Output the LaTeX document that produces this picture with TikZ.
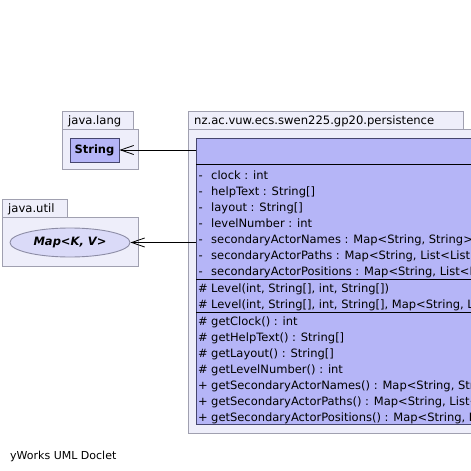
\documentclass[tikz,border=0pt]{standalone}
\usepackage{fontspec}
\setmainfont{DejaVu Sans}
\usetikzlibrary{arrows.meta,shapes.geometric,calc}
\definecolor{pkgfill}{RGB}{238,238,250}
\definecolor{pkgdraw}{RGB}{160,160,176}
\definecolor{clsfill}{RGB}{181,181,247}
\definecolor{clsdraw}{RGB}{70,70,110}
\definecolor{ellfill}{RGB}{218,218,248}
\definecolor{elldraw}{RGB}{140,140,165}
\begin{document}
\begin{tikzpicture}[x=1pt,y=-1pt,
  pkgshape/.style={draw=pkgdraw, fill=pkgfill, line width=0.9pt},
  pkglabel/.style={anchor=base west, inner sep=0pt, font=\fontsize{11.6}{13}\selectfont},
  member/.style={anchor=base west, inner sep=0pt, font=\fontsize{11.5}{13}\selectfont},
  vis/.style={anchor=base west, inner sep=0pt, font=\fontsize{11.5}{13}\selectfont},
  sepline/.style={draw=black, line width=1pt},
  dep/.style={draw=black, line width=0.8pt, -{Straight Barb[length=13pt,width=9pt,line width=0.8pt]}}]
\useasboundingbox (0,0) rectangle (471,471);
\fill[white] (0,0) rectangle (471,471);
\clip (0,0) rectangle (471,471);

% java.lang package
\draw[pkgshape] (62,111) rectangle (133,129);
\draw[pkgshape] (62,129) rectangle (138,169);
\node[pkglabel] (langlbl) at (68,124) {java.lang};
\node[draw=clsdraw, fill=clsfill, line width=0.9pt, minimum width=49, minimum height=24, inner sep=0pt,
      font=\fontsize{11.5}{13}\selectfont\bfseries] (string) at (94.5,150) {String};

% java.util package
\draw[pkgshape] (2,199) rectangle (67,217);
\draw[pkgshape] (2,217) rectangle (138,266);
\node[pkglabel] (utillbl) at (8,212) {java.util};
\node[ellipse, draw=elldraw, fill=ellfill, line width=0.9pt, minimum width=120, minimum height=29, inner sep=0pt,
      font=\fontsize{11.5}{13}\selectfont\bfseries\itshape] (map) at (70,242.5) {Map<K, V>};

% persistence package
\draw[pkgshape] (188,111) rectangle (463,129);
\draw[pkgshape] (188,129) rectangle (490,433);
\node[pkglabel] (perslbl) at (194,124) {nz.ac.vuw.ecs.swen225.gp20.persistence};

% class
\node[draw=clsdraw, fill=clsfill, line width=0.9pt, anchor=north west, minimum width=300, minimum height=286, inner sep=0pt] (cls) at (196,138) {};
\draw[sepline] ($(cls.north west)+(0,26)$) -- ($(cls.north east)+(0,26)$);
\draw[sepline] ($(cls.north west)+(0,141)$) -- ($(cls.north east)+(0,141)$);
\draw[sepline] ($(cls.north west)+(0,174)$) -- ($(cls.north east)+(0,174)$);

\node[vis] (a1v) at (198.5,179) {-};
\node[vis] (a2v) at (198.5,195) {-};
\node[vis] (a3v) at (198.5,211) {-};
\node[vis] (a4v) at (198.5,227) {-};
\node[vis] (a5v) at (198.5,243) {-};
\node[vis] (a6v) at (198.5,259) {-};
\node[vis] (a7v) at (198.5,275) {-};
\node[vis] (c1v) at (198,292) {\#};
\node[vis] (c2v) at (198,308) {\#};
\node[vis] (m1v) at (198,325) {\#};
\node[vis] (m2v) at (198,341) {\#};
\node[vis] (m3v) at (198,357) {\#};
\node[vis] (m4v) at (198,373) {\#};
\node[vis] (m5v) at (198,389) {+};
\node[vis] (m6v) at (198,405) {+};
\node[vis] (m7v) at (198,421) {+};

\node[member] (a1) at (211,179) {clock : int};
\node[member] (a2) at (211,195) {helpText : String[]};
\node[member] (a3) at (211,211) {layout : String[]};
\node[member] (a4) at (211,227) {levelNumber : int};
\node[member] (a5) at (211,243) {secondaryActorNames : Map<String, String>};
\node[member] (a6) at (211,259) {secondaryActorPaths : Map<String, List<List<};
\node[member] (a7) at (211,275) {secondaryActorPositions : Map<String, List<P};
\node[member] (c1) at (211,292) {Level(int, String[], int, String[])};
\node[member] (c2) at (211,308) {Level(int, String[], int, String[], Map<String, Li};
\node[member] (m1) at (211,325) {getClock() : int};
\node[member] (m2) at (211,341) {getHelpText() : String[]};
\node[member] (m3) at (211,357) {getLayout() : String[]};
\node[member] (m4) at (211,373) {getLevelNumber() : int};
\node[member] (m5) at (211,389) {getSecondaryActorNames() : Map<String, Str};
\node[member] (m6) at (211,405) {getSecondaryActorPaths() : Map<String, List<};
\node[member] (m7) at (211,421) {getSecondaryActorPositions() : Map<String, L};

% dependencies
\draw[dep] (cls.west |- string.east) -- (string.east);
\draw[dep] (cls.west |- map.east) -- (map.east);

\node[anchor=base west, inner sep=0pt, font=\fontsize{11}{13}\selectfont] (doclet) at (10,459) {yWorks UML Doclet};
\end{tikzpicture}
\end{document}
